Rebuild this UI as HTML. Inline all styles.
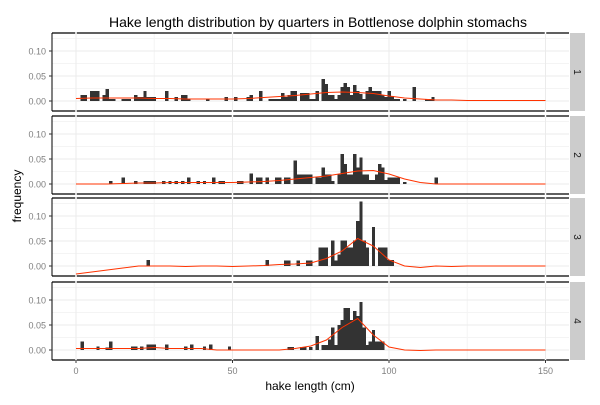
<!DOCTYPE html>
<html><head><meta charset="utf-8"><style>
body{margin:0;background:#fff;}
svg text{font-family:"Liberation Sans",sans-serif;}
</style></head><body>
<svg id="c" width="600" height="400" xmlns="http://www.w3.org/2000/svg">
<text x="318" y="27" font-size="14" text-anchor="middle" fill="#000">Hake length distribution by quarters in Bottlenose dolphin stomachs</text>
<text x="310" y="390" font-size="12" text-anchor="middle" fill="#000">hake length (cm)</text>
<text transform="translate(21,196) rotate(-90)" font-size="12" text-anchor="middle" fill="#000">frequency</text>
</svg>
<script>
const quarters=["1","2","3","4"];
const xTicks=[0,50,100,150];
const yTicks=[0,0.05,0.10];
const yTickLabels=["0.00","0.05","0.10"];
const densKnots=[0,5,10,15,20,25,30,35,40,45,50,55,60,65,70,75,80,85,90,95,100,105,110,115,120,125,130,135,140,145,150];
const dens1=[0.005,0.006,0.006,0.006,0.006,0.005,0.005,0.004,0.004,0.004,0.004,0.005,0.007,0.009,0.011,0.014,0.017,0.018,0.017,0.015,0.01,0.006,0.004,0.002,0.002,0.001,0.001,0.001,0.001,0.001,0.001];
const dens2=[0,0,0,0.001,0.002,0.002,0.003,0.003,0.003,0.003,0.003,0.004,0.005,0.007,0.01,0.013,0.016,0.021,0.026,0.027,0.02,0.01,0.003,0,0,0,0,0,0,0,0];
const dens3=[-0.016,-0.012,-0.008,-0.004,0,0,0,-0.001,0,0,-0.001,0,0.001,0.003,0.004,0.006,0.015,0.03,0.055,0.04,0.012,0,-0.003,0,-0.001,0,0,0,0,0,0];
const dens4=[0.003,0.003,0.003,0.003,0.003,0.005,0.003,0.003,0.003,0,0,0,0,0,0.003,0.008,0.02,0.045,0.063,0.03,0.006,0,-0.001,0,0,0,0,0,0,0,0];
const len1=[2,3,5,6,7,9,10,11,12,15,16,17,19,20,21,22,23,24,25,29,32,34,35,36,42,48,51,55,56,59,62,63,64,65,66,67,68,69,70,72,73,74,75,76,77,79,80,81,82,83,84,85,86,87,88,89,90,91,92,93,94,95,96,97,98,99,100,101,102,103,105,108,112,113,114];
const frq1=[0.012,0.012,0.02,0.02,0.02,0.012,0.024,0.004,0.004,0.004,0.004,0.004,0.012,0.008,0.008,0.02,0.008,0.008,0.008,0.02,0.008,0.012,0.012,0.004,0.004,0.008,0.008,0.008,0.012,0.02,0.004,0.004,0.004,0.004,0.016,0.008,0.012,0.02,0.02,0.016,0.016,0.016,0.004,0.004,0.02,0.044,0.034,0.012,0.012,0.004,0.012,0.028,0.036,0.028,0.012,0.032,0.02,0.014,0.004,0.02,0.028,0.02,0.02,0.02,0.012,0.008,0.02,0.01,0.004,0.004,0.004,0.028,0.004,0.004,0.008];
const len2=[11,15,19,22,23,24,25,28,30,32,34,36,39,41,44,46,47,52,53,56,58,59,61,64,65,67,68,70,71,72,73,74,75,77,78,79,80,81,82,84,85,86,87,88,89,90,91,92,93,94,95,96,97,98,99,100,101,102,103,105,115];
const frq2=[0.006,0.013,0.006,0.006,0.006,0.006,0.006,0.006,0.006,0.006,0.006,0.013,0.006,0.006,0.013,0.006,0.006,0.006,0.006,0.021,0.013,0.013,0.013,0.013,0.013,0.013,0.013,0.047,0.019,0.019,0.019,0.019,0.019,0.013,0.013,0.033,0.019,0.019,0.006,0.019,0.06,0.04,0.019,0.019,0.06,0.033,0.053,0.019,0.019,0.008,0.008,0.019,0.04,0.033,0.008,0.013,0.013,0.013,0.013,0.004,0.013];
const len3=[23,61,67,68,71,74,75,78,79,80,82,83,84,85,86,87,88,89,90,91,92,93,95,97,98,99,100,101];
const frq3=[0.012,0.012,0.011,0.011,0.011,0.011,0.011,0.037,0.037,0.037,0.051,0.011,0.023,0.051,0.051,0.037,0.037,0.051,0.09,0.129,0.051,0.037,0.078,0.037,0.037,0.037,0.012,0.012];
const len4=[2,7,10,11,18,19,21,23,24,25,29,35,37,41,43,49,68,69,72,73,75,77,79,80,81,82,83,84,85,86,87,88,89,90,91,92,93,94,95,96,97,98];
const frq4=[0.017,0.007,0.005,0.017,0.007,0.007,0.007,0.011,0.011,0.011,0.011,0.007,0.011,0.007,0.011,0.007,0.006,0.006,0.006,0.006,0.006,0.028,0.01,0.01,0.021,0.045,0.01,0.05,0.06,0.084,0.084,0.06,0.078,0.068,0.096,0.045,0.01,0.017,0.04,0.017,0.017,0.017];

const lens=[len1,len2,len3,len4], frqs=[frq1,frq2,frq3,frq4], denss=[dens1,dens2,dens3,dens4];
const NS="http://www.w3.org/2000/svg";
const svg=document.getElementById('c');
const panelTops=[33,116,198,282], panelH=78;
const zeroOff=68;
const L=52, R=569;
const X=v=>76+v*3.13;
function mk(tag,attrs,parent){const e=document.createElementNS(NS,tag);for(const k in attrs)e.setAttribute(k,attrs[k]);(parent||svg).appendChild(e);return e;}
quarters.forEach((q,i)=>{
  const top=panelTops[i], bot=top+panelH, z=top+zeroOff;
  const Y=v=>z-v*500;
  const g=mk('g',{});
  
  
  [0.025,0.075,0.125].forEach(v=>{const y=Y(v);if(y>top)mk('line',{x1:L,x2:R,y1:y,y2:y,stroke:'#f4f4f4','stroke-width':1},g);});
  [25,75,125].forEach(v=>mk('line',{x1:X(v),x2:X(v),y1:top,y2:bot,stroke:'#f4f4f4','stroke-width':1},g));
  yTicks.forEach(v=>mk('line',{x1:L,x2:R,y1:Y(v),y2:Y(v),stroke:'#ebebeb','stroke-width':1},g));
  xTicks.forEach(v=>mk('line',{x1:X(v),x2:X(v),y1:top,y2:bot,stroke:'#ebebeb','stroke-width':1},g));
  mk('line',{x1:L,x2:R,y1:top,y2:top,stroke:'#000','stroke-width':1.3},g);
  mk('line',{x1:L,x2:R,y1:bot,y2:bot,stroke:'#000','stroke-width':1.3},g);
  mk('line',{x1:L,x2:L,y1:top,y2:bot,stroke:'#000','stroke-width':1},g);
  xTicks.forEach(v=>{mk('line',{x1:X(v),x2:X(v),y1:top-1,y2:top+1,stroke:'#fff','stroke-width':1.5},g);mk('line',{x1:X(v),x2:X(v),y1:bot-1,y2:bot+1,stroke:'#fff','stroke-width':1.5},g);});
  yTicks.forEach((v,k)=>{
    mk('line',{x1:L-3,x2:L,y1:Y(v),y2:Y(v),stroke:'#333','stroke-width':1},g);
    const t=mk('text',{x:L-6,y:Y(v)+3.5,'font-size':9,'text-anchor':'end',fill:'#7f7f7f'},g);
    t.textContent=yTickLabels[k];
    
    
  });
  lens[i].forEach((l,k)=>{
    const f=frqs[i][k];
    const r=mk('rect',{x:X(l-0.5),width:3.4,y:Y(f),height:Math.max(0,z-Y(f)),fill:'#333333','shape-rendering':'crispEdges'},g);
    
    
  });
  const pts=densKnots.map((d,k)=>X(d).toFixed(1)+','+Y(denss[i][k]).toFixed(1)).join(' ');
  const pl=mk('polyline',{points:pts,fill:'none',stroke:'#ff3300','stroke-width':1},g);
  
  
  const s=mk('rect',{x:570,y:top,width:15,height:panelH,fill:'#cccccc'},g);
  
  
  const st=mk('text',{'font-size':10,'text-anchor':'middle',fill:'#1a1a1a',transform:`translate(574,${top+panelH/2}) rotate(90)`},g);
  st.textContent=q;
  
  
});
xTicks.forEach(v=>{
  mk('line',{x1:X(v),x2:X(v),y1:360,y2:363,stroke:'#333','stroke-width':1});
  const t=mk('text',{x:X(v),y:374,'font-size':9,'text-anchor':'middle',fill:'#7f7f7f'});
  t.textContent=String(v);
  
  
});
</script>
</body></html>
